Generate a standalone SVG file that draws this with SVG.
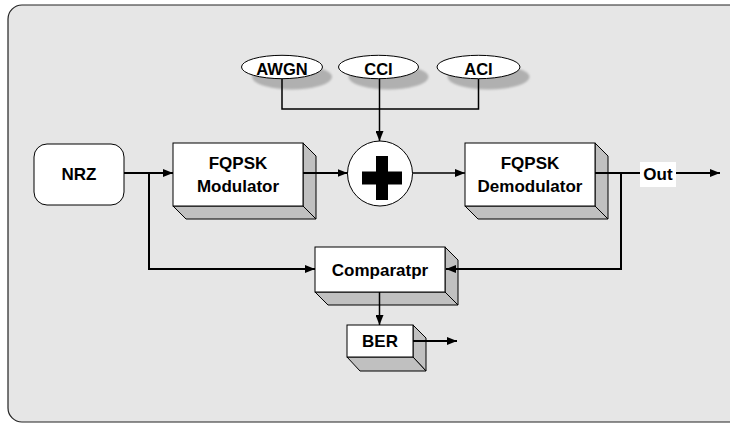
<svg xmlns="http://www.w3.org/2000/svg" width="730" height="423" viewBox="0 0 730 423">
<defs>
<marker id="ah" markerWidth="10" markerHeight="8" refX="10" refY="4" orient="auto" markerUnits="userSpaceOnUse">
<path d="M0,0 L10,4 L0,8 Z" fill="#000"/>
</marker>
<filter id="blur" x="-20%" y="-40%" width="140%" height="180%"><feGaussianBlur stdDeviation="1.2"/></filter>
</defs>
<style>
.t{font-family:"Liberation Sans",Arial,sans-serif;font-weight:bold;font-size:17px;fill:#000;text-anchor:middle}
.te{font-family:"Liberation Sans",Arial,sans-serif;font-weight:bold;font-size:16.5px;fill:#000;text-anchor:middle}
.face{fill:#fff;stroke:#000;stroke-width:1}
.side{fill:#c0c0c0;stroke:#000;stroke-width:1;stroke-linejoin:round}
.sh{fill:#b0b0b0;filter:url(#blur)}
.w{fill:none;stroke:#000;stroke-width:2}
.w1{fill:none;stroke:#000;stroke-width:1.5}
</style>
<rect x="8" y="5" width="740" height="417" rx="14" fill="#e6e6e6" stroke="#222" stroke-width="1.2"/>

<g id="awgn">
<ellipse class="sh" cx="292" cy="77" rx="40" ry="12.5"/>
<ellipse class="face" cx="282" cy="67" rx="40.5" ry="11.7"/>
<text class="te" x="282" y="74.5">AWGN</text>
</g>
<g id="cci">
<ellipse class="sh" cx="388.5" cy="77" rx="40" ry="12.5"/>
<ellipse class="face" cx="378.5" cy="67" rx="40" ry="11.7"/>
<text class="te" x="378.5" y="74.5">CCI</text>
</g>
<g id="aci">
<ellipse class="sh" cx="488.5" cy="77" rx="41" ry="12.5"/>
<ellipse class="face" cx="478.5" cy="67" rx="41.5" ry="11.7"/>
<text class="te" x="478.5" y="74.5">ACI</text>
</g>

<g id="nrz">
<rect class="face" x="34" y="144" width="90" height="61" rx="13"/>
<text class="t" x="79" y="180">NRZ</text>
</g>

<g id="modulator">
<polygon class="side" points="303,143 316,156 316,219 303,206"/>
<polygon class="side" points="173,206 303,206 316,219 186,219"/>
<rect class="face" x="173" y="143" width="130" height="63"/>
<text class="t" x="238" y="169">FQPSK</text>
<text class="t" x="238" y="191.5">Modulator</text>
</g>

<g id="adder">
<circle class="face" cx="380" cy="173.5" r="32.5"/>
<rect x="362" y="171.5" width="40" height="13" fill="#000"/>
<rect x="376" y="156" width="12" height="44" fill="#000"/>
</g>

<g id="demodulator">
<polygon class="side" points="595,143 608,156 608,219 595,206"/>
<polygon class="side" points="465,206 595,206 608,219 478,219"/>
<rect class="face" x="465" y="143" width="130" height="63"/>
<text class="t" x="530" y="169">FQPSK</text>
<text class="t" x="530" y="191.5">Demodulator</text>
</g>

<g id="comparator">
<polygon class="side" points="445,247 458,260 458,305 445,292"/>
<polygon class="side" points="315,292 445,292 458,305 328,305"/>
<rect class="face" x="315" y="247" width="130" height="45"/>
<text class="t" x="380" y="275.5">Comparatpr</text>
</g>

<g id="ber">
<polygon class="side" points="413,325 426,338 426,371 413,357"/>
<polygon class="side" points="347,357 413,357 426,371 360,371"/>
<rect class="face" x="347" y="325" width="66" height="32"/>
<text class="t" x="380" y="347">BER</text>
</g>

<g id="out">
<rect x="640" y="162" width="36" height="25" fill="#fff"/>
<text class="t" x="658" y="180">Out</text>
</g>

<g id="connectors">
<polyline class="w1" points="282,79 282,109 478.5,109 478.5,79"/>
<line class="w1" x1="379.5" y1="79" x2="379.5" y2="141" marker-end="url(#ah)"/>
<line class="w" x1="124" y1="173" x2="173" y2="173" marker-end="url(#ah)"/>
<polyline class="w" points="149,173 149,269 315,269" marker-end="url(#ah)"/>
<line class="w" x1="303" y1="173" x2="347.5" y2="173" marker-end="url(#ah)"/>
<line class="w1" x1="412.5" y1="173" x2="465" y2="173" marker-end="url(#ah)"/>
<line class="w" x1="595" y1="173" x2="640" y2="173"/>
<line class="w" x1="676" y1="173" x2="720" y2="173" marker-end="url(#ah)"/>
<polyline class="w" points="621,173 621,269 446,269" marker-end="url(#ah)"/>
<line class="w1" x1="379.5" y1="292" x2="379.5" y2="325" marker-end="url(#ah)"/>
<line class="w" x1="413" y1="341" x2="457" y2="341" marker-end="url(#ah)"/>
</g>
</svg>
